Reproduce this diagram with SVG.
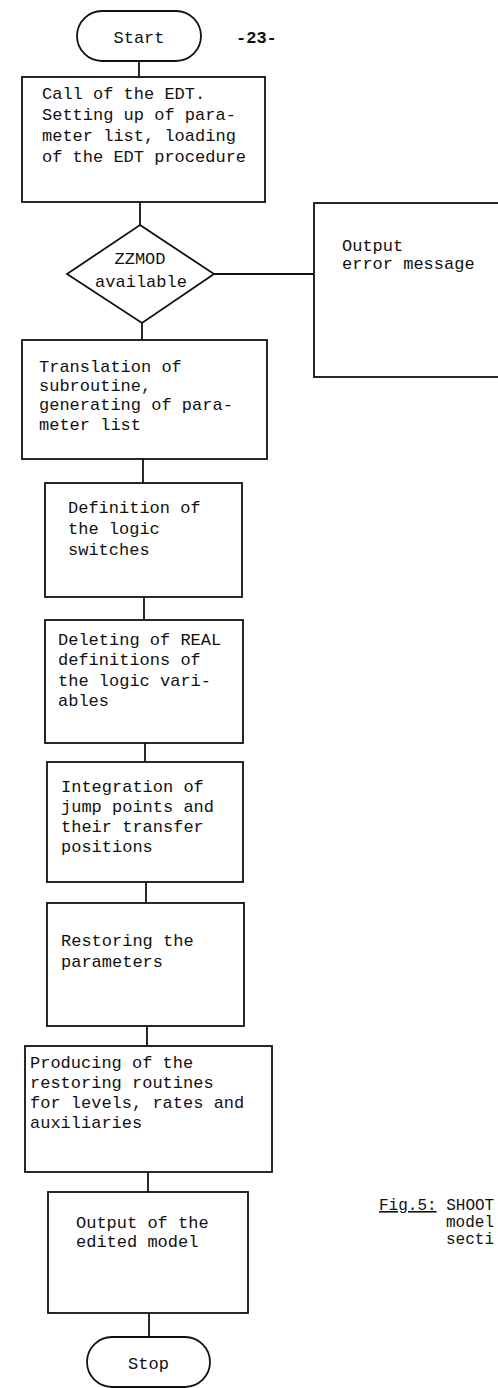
<svg xmlns="http://www.w3.org/2000/svg" width="498" height="1388" viewBox="0 0 498 1388">
<style>
  .shape { fill: #ffffff; stroke: #111111; stroke-width: 1.8; }
  .conn { fill: none; stroke: #111111; stroke-width: 1.8; }
  text { font-family: "Liberation Mono", "DejaVu Sans Mono", monospace; font-size: 17px; fill: #111111; }
  .c { text-anchor: middle; }
  .cap { font-size: 16px; }
</style>
<rect x="0" y="0" width="498" height="1388" fill="#ffffff"/>
<g id="connectors">
  <line class="conn" x1="139" y1="61" x2="139" y2="77"/>
  <line class="conn" x1="140" y1="202" x2="140" y2="225"/>
  <line class="conn" x1="214" y1="274" x2="314" y2="274"/>
  <line class="conn" x1="142" y1="323" x2="142" y2="340"/>
  <line class="conn" x1="143" y1="459" x2="143" y2="483"/>
  <line class="conn" x1="144" y1="597" x2="144" y2="620"/>
  <line class="conn" x1="145" y1="743" x2="145" y2="762"/>
  <line class="conn" x1="146" y1="882" x2="146" y2="903"/>
  <line class="conn" x1="147" y1="1026" x2="147" y2="1046"/>
  <line class="conn" x1="148" y1="1172" x2="148" y2="1192"/>
  <line class="conn" x1="149" y1="1313" x2="149" y2="1337"/>
</g>
<g id="start">
  <rect class="shape" x="77" y="11" width="124" height="50" rx="25"/>
  <text class="c" x="139" y="43">Start</text>
</g>
<g id="page-number">
  <text x="236" y="43" font-weight="bold">-23-</text>
</g>
<g id="call-edt">
  <rect class="shape" x="22" y="77" width="243" height="125"/>
  <text x="42" y="99">Call of the EDT.</text>
  <text x="42" y="120">Setting up of para-</text>
  <text x="42" y="141">meter list, loading</text>
  <text x="42" y="162">of the EDT procedure</text>
</g>
<g id="zzmod">
  <polygon class="shape" points="140,225 214,274 142,323 67,274"/>
  <text class="c" x="140" y="264">ZZMOD</text>
  <text class="c" x="141" y="287">available</text>
</g>
<g id="error">
  <rect class="shape" x="314" y="203" width="200" height="174"/>
  <text x="342" y="251">Output</text>
  <text x="342" y="269">error message</text>
</g>
<g id="translation">
  <rect class="shape" x="22" y="340" width="245" height="119"/>
  <text x="39" y="372">Translation of</text>
  <text x="39" y="391">subroutine,</text>
  <text x="39" y="410">generating of para-</text>
  <text x="39" y="430">meter list</text>
</g>
<g id="definition">
  <rect class="shape" x="45" y="483" width="197" height="114"/>
  <text x="68" y="513">Definition of</text>
  <text x="68" y="534">the logic</text>
  <text x="68" y="555">switches</text>
</g>
<g id="deleting">
  <rect class="shape" x="45" y="620" width="198" height="123"/>
  <text x="58" y="645">Deleting of REAL</text>
  <text x="58" y="665">definitions of</text>
  <text x="58" y="686">the logic vari-</text>
  <text x="58" y="706">ables</text>
</g>
<g id="integration">
  <rect class="shape" x="47" y="762" width="196" height="120"/>
  <text x="61" y="792">Integration of</text>
  <text x="61" y="812">jump points and</text>
  <text x="61" y="832">their transfer</text>
  <text x="61" y="852">positions</text>
</g>
<g id="restoring">
  <rect class="shape" x="47" y="903" width="197" height="123"/>
  <text x="61" y="946">Restoring the</text>
  <text x="61" y="967">parameters</text>
</g>
<g id="producing">
  <rect class="shape" x="25" y="1046" width="247" height="126"/>
  <text x="30" y="1068">Producing of the</text>
  <text x="30" y="1088">restoring routines</text>
  <text x="30" y="1108">for levels, rates and</text>
  <text x="30" y="1128">auxiliaries</text>
</g>
<g id="output">
  <rect class="shape" x="48" y="1192" width="200" height="121"/>
  <text x="76" y="1228">Output of the</text>
  <text x="76" y="1247">edited model</text>
</g>
<g id="stop">
  <rect class="shape" x="87" y="1337" width="123" height="50" rx="25"/>
  <text class="c" x="148.5" y="1369">Stop</text>
</g>
<g id="caption">
  <text class="cap" x="379" y="1210"><tspan text-decoration="underline">Fig.5:</tspan> SHOOT</text>
  <text class="cap" x="446" y="1227">model</text>
  <text class="cap" x="446" y="1244">secti</text>
</g>
</svg>
